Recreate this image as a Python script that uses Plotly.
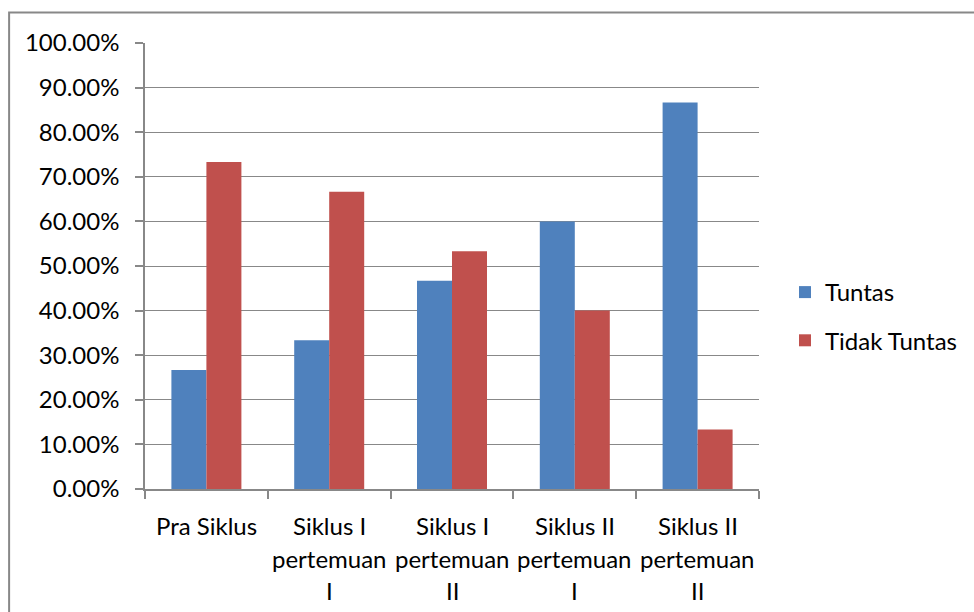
import plotly.graph_objects as go

categories = ["Pra Siklus", "Siklus I pertemuan I", "Siklus I pertemuan II",
              "Siklus II pertemuan I", "Siklus II pertemuan II"]
category_lines = [["Pra Siklus"], ["Siklus I", "pertemuan", "I"], ["Siklus I", "pertemuan", "II"],
                  ["Siklus II", "pertemuan", "I"], ["Siklus II", "pertemuan", "II"]]
tuntas = [0.2667, 0.3333, 0.4667, 0.60, 0.8667]
tidak_tuntas = [0.7333, 0.6667, 0.5333, 0.40, 0.1333]
y_ticks = [0, 0.1, 0.2, 0.3, 0.4, 0.5, 0.6, 0.7, 0.8, 0.9, 1.0]

FONT = "Lato"
FS = 24
GRID = "#888888"

fig = go.Figure()
fig.add_trace(go.Bar(name="Tuntas", x=categories, y=tuntas, marker_color="#4F81BD",
                     marker_line_width=0, legendgroup="a"))
fig.add_trace(go.Bar(name="Tidak Tuntas", x=categories, y=tidak_tuntas, marker_color="#C0504D",
                     marker_line_width=0, legendgroup="b"))

L, R, T, B = 144.5, 215, 43, 123
pw = 974 - L - R
ph = 612 - T - B

annotations = []
line_offsets = [36, 69, 101]
for cat, lines in zip(categories, category_lines):
    for i, ln in enumerate(lines):
        annotations.append(dict(x=cat, xref="x", y=-line_offsets[i] / ph, yref="paper",
                                text=ln, showarrow=False, xanchor="center", yanchor="middle",
                                font=dict(family=FONT, size=FS, color="#000000")))

fig.update_layout(
    width=974, height=612,
    margin=dict(l=L, r=R, t=T, b=B, autoexpand=False),
    paper_bgcolor="white", plot_bgcolor="white",
    barmode="group", bargap=0.43, bargroupgap=0,
    font=dict(family=FONT, size=FS, color="#000000"),
    showlegend=True,
    legend=dict(x=(785 - L) / pw, y=(489 - 316.5) / ph, xanchor="left", yanchor="middle",
                traceorder="grouped", tracegroupgap=14,
                font=dict(family=FONT, size=FS, color="#000000"),
                itemwidth=30, bgcolor="rgba(0,0,0,0)"),
    xaxis=dict(showticklabels=False, ticks="outside", ticklen=8, tickcolor=GRID, tickwidth=1.5,
               tickson="boundaries", showline=True, linecolor=GRID, linewidth=1.5,
               showgrid=False, zeroline=False),
    yaxis=dict(range=[0, 1.0], tickvals=y_ticks, tickformat=".2%", ticks="outside",
               ticklen=8, tickcolor=GRID, tickwidth=1.5, showline=True, linecolor=GRID,
               linewidth=1.5, showgrid=True, gridcolor=GRID, gridwidth=1.3,
               zeroline=False, tickfont=dict(family=FONT, size=FS), ticklabelstandoff=11),
    annotations=annotations,
    shapes=[dict(type="rect", xref="paper", yref="paper",
                 x0=(8.5 - L) / pw, x1=2.0, y0=-1.0, y1=(489 - 12.5) / ph,
                 line=dict(color="#888888", width=2), fillcolor="rgba(0,0,0,0)", layer="below")],
)

fig.write_html("out.html", config={"displayModeBar": False},
               post_script="document.body.style.margin='0px';")
